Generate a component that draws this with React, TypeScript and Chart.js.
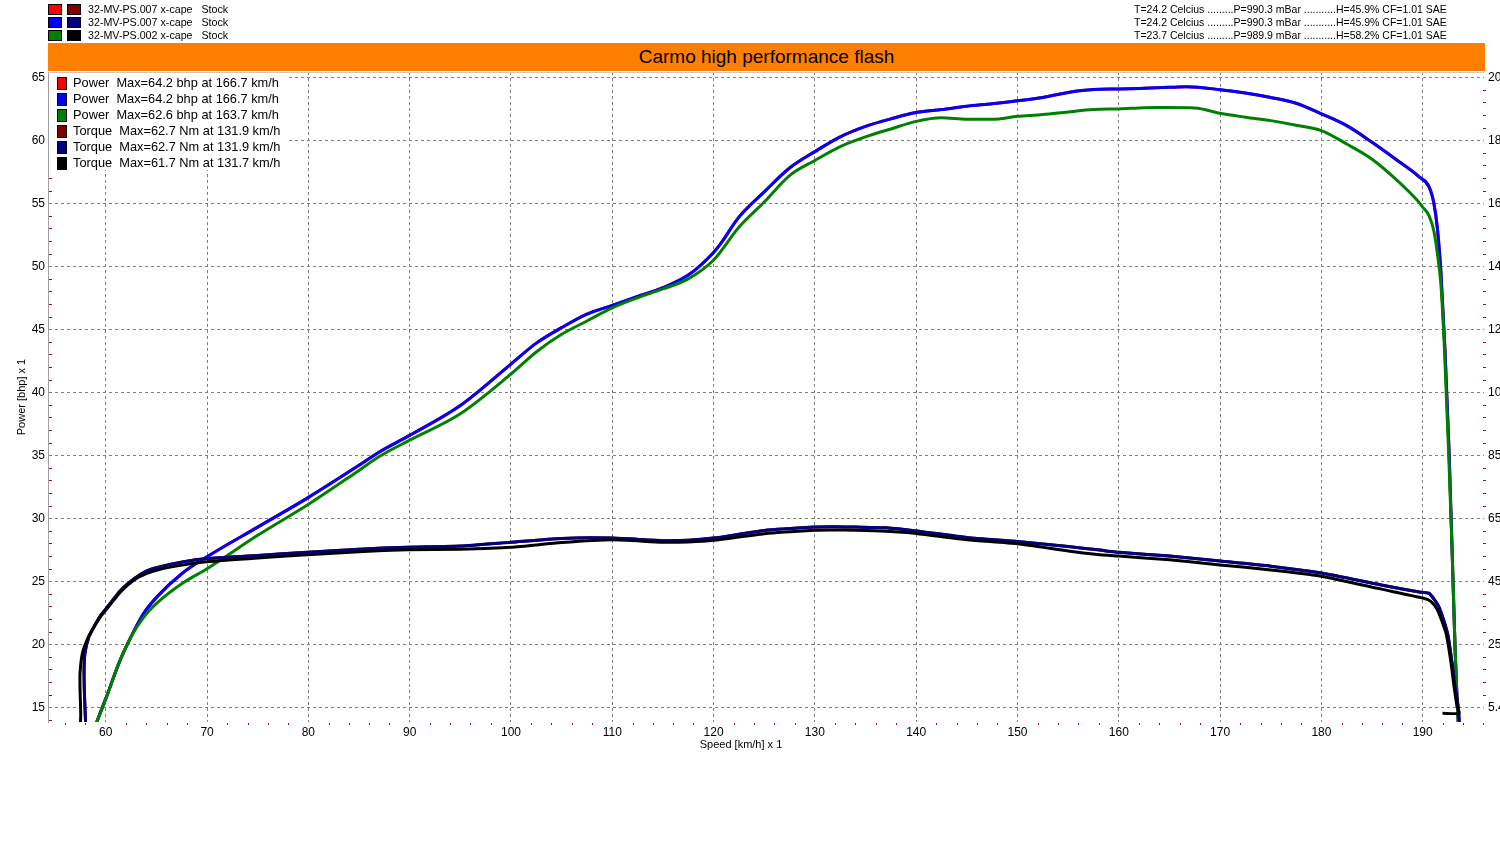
import React, { useEffect, useRef } from "react";
import { Chart, registerables, ChartConfiguration, Plugin } from "chart.js";

Chart.register(...registerables);

const FONT = "'Liberation Sans', Arial, sans-serif";
const GRID = "#808080";
const MINOR = "#c00000";

// header rows: run name, weather/correction line
const runNames = [
  "32-MV-PS.007 x-cape   Stock",
  "32-MV-PS.007 x-cape   Stock",
  "32-MV-PS.002 x-cape   Stock",
];
const runConditions = [
  "T=24.2 Celcius .........P=990.3 mBar ...........H=45.9% CF=1.01 SAE",
  "T=24.2 Celcius .........P=990.3 mBar ...........H=45.9% CF=1.01 SAE",
  "T=23.7 Celcius .........P=989.9 mBar ...........H=58.2% CF=1.01 SAE",
];
const chartTitle = "Carmo high performance flash";

const powerColors = ["#ff0000", "#0000ff", "#008000"];
const torqueColors = ["#800000", "#000080", "#000000"];
const legendColors = [...powerColors, ...torqueColors];
const legendLabels = [
  "Power  Max=64.2 bhp at 166.7 km/h",
  "Power  Max=64.2 bhp at 166.7 km/h",
  "Power  Max=62.6 bhp at 163.7 km/h",
  "Torque  Max=62.7 Nm at 131.9 km/h",
  "Torque  Max=62.7 Nm at 131.9 km/h",
  "Torque  Max=61.7 Nm at 131.7 km/h",
];

// axes
const speedTicks = [60, 70, 80, 90, 100, 110, 120, 130, 140, 150, 160, 170, 180, 190];
const powerTicks = [15, 20, 25, 30, 35, 40, 45, 50, 55, 60, 65];
const torqueTicks = [5.4, 25.4, 45.4, 65.4, 85.4, 105.4, 125.4, 145.4, 165.4, 185.4, 205.4];
const SPEED_MIN = 54.3;
const SPEED_MAX = 196.05;
const POWER_MIN = 13.83;
const POWER_MAX = 65.42;
// right axis (Nm) = 4 * left axis (bhp) - 54.6
const TORQUE_MIN = 4 * POWER_MIN - 54.6;
const TORQUE_MAX = 4 * POWER_MAX - 54.6;

// run 007 power (bhp)
const speed007Power = [
  59.0, 59.2, 60.2, 61.3, 62.5, 63.7, 65.1, 67.5, 70, 75, 79.9, 85, 87, 90, 95, 100,
  102.5, 105, 107.5, 110, 112.5, 115, 117.5, 120, 120.7, 122.5, 125, 127.5, 130, 132.5,
  135, 137.5, 140, 142.5, 145, 147.5, 150, 152.5, 155, 157.5, 160, 162.5, 165, 166.7,
  170, 172.5, 175, 177.5, 180, 182.5, 185, 187.5, 189.65, 190.63, 191.1, 191.45, 191.8,
  192.2, 192.6, 192.9, 193.2, 193.4, 193.55,
];
const power007 = [
  13.5, 14.0, 16.1, 18.5, 20.6, 22.4, 23.8, 25.6, 26.95, 29.3, 31.6, 34.2, 35.26, 36.58,
  38.95, 42.24, 43.9, 45.13, 46.2, 46.9, 47.6, 48.3, 49.3, 51.1, 51.8, 53.9, 55.9, 57.8,
  59.1, 60.27, 61.1, 61.7, 62.2, 62.44, 62.7, 62.9, 63.13, 63.4, 63.8, 64.03, 64.07,
  64.13, 64.2, 64.24, 64.02, 63.76, 63.4, 62.94, 62.1, 61.16, 59.84, 58.4, 57.1, 56.3,
  55.0, 53.0, 49.5, 43.35, 35.4, 27.5, 19.55, 15.5, 13.5,
];

// run 002 power (bhp)
const speed002Power = [
  58.9, 59.2, 60.2, 61.3, 62.5, 63.7, 65.1, 67.5, 70, 75, 79.9, 85, 87, 90, 95, 100,
  102.5, 105, 107.5, 110, 112.5, 115, 117.5, 120, 122.5, 125, 127.5, 130, 132.5, 135,
  137.5, 140, 142.5, 145, 147.5, 150, 152.5, 155, 157.5, 160, 162.5, 163.7, 165, 167.5,
  170, 172.5, 175, 177.5, 180, 182.5, 185, 187.5, 189.5, 190.0, 190.63, 191.1, 191.45,
  191.8, 192.15, 192.55, 192.9, 193.2, 193.4, 193.5,
];
const power002 = [
  13.5, 14.0, 16.1, 18.5, 20.6, 22.1, 23.3, 24.8, 26.0, 28.65, 31.05, 33.8, 34.9, 36.2,
  38.3, 41.45, 43.2, 44.6, 45.66, 46.7, 47.5, 48.2, 49.0, 50.5, 53.1, 55.1, 57.2, 58.4,
  59.5, 60.27, 60.9, 61.5, 61.78, 61.67, 61.67, 61.9, 62.04, 62.25, 62.44, 62.49, 62.58,
  62.6, 62.6, 62.57, 62.14, 61.83, 61.56, 61.2, 60.77, 59.7, 58.5, 56.8, 55.2, 54.7,
  54.0, 52.8, 51.0, 48.5, 43.35, 35.4, 27.5, 19.55, 15.5, 13.5,
];

// run 007 torque (Nm)
const speed007Torque = [
  58.0, 58.0, 57.9, 57.86, 57.95, 58.3, 58.85, 59.5, 60.2, 61.5, 62.8, 64.0, 65.1, 67.7,
  70, 75, 79.9, 85, 89.8, 95, 100, 105, 110, 115, 117.5, 120, 125, 130, 131.9, 134, 137,
  140, 145, 150, 155, 157.9, 160, 165, 170, 175, 180, 185.9, 189.8, 190.63, 191.6,
  192.45, 192.9, 193.2, 193.5, 193.6, 193.65,
];
const torque007 = [
  -0.6, 1.4, 9.4, 17.4, 22.6, 27.4, 31.0, 34.6, 37.4, 42.6, 46.2, 48.6, 49.8, 51.6, 52.6,
  53.6, 54.6, 55.6, 56.2, 56.6, 57.8, 59.0, 59.1, 58.3, 58.4, 59.1, 61.5, 62.6, 62.7,
  62.6, 62.4, 61.4, 59.3, 58.0, 56.4, 55.4, 54.6, 53.4, 51.8, 50.2, 48.0, 44.2, 41.9,
  41.6, 37.3, 28.9, 19.4, 11.8, 5.6, 1.4, -0.6,
];

// run 002 torque (Nm)
const speed002Torque = [
  57.5, 57.53, 57.46, 57.46, 57.7, 58.3, 58.85, 59.5, 60.2, 61.5, 62.8, 64.0, 65.1, 67.7,
  70, 75, 79.9, 85, 89.8, 95, 100, 105, 110, 115, 117.5, 120, 125, 130, 131.7, 134, 137,
  140, 145, 150, 155, 157.9, 160, 165, 170, 175, 180, 185.9, 190.1, 190.8, 191.45, 192.3,
  192.8, 193.1, 193.4, 193.6, 191.95,
];
const torque002 = [
  -0.6, 3.4, 11.4, 16.2, 22.6, 27.8, 31.0, 34.2, 37.0, 42.2, 45.8, 47.8, 49.0, 50.6, 51.6,
  52.8, 53.8, 54.8, 55.4, 55.6, 56.2, 57.7, 58.6, 57.8, 57.9, 58.4, 60.5, 61.6, 61.7,
  61.6, 61.3, 60.6, 58.6, 57.3, 55.0, 53.9, 53.4, 52.2, 50.6, 49.0, 47.0, 42.9, 40.0,
  39.0, 36.3, 28.9, 19.4, 11.8, 5.6, 3.5, 3.5,
];

const toPoints = (xs: number[], ys: number[]) => xs.map((x, i) => ({ x, y: ys[i] }));

// plot frame top line and short red minor tick marks along the three axes
const minorTicks: Plugin<"line"> = {
  id: "minorTicks",
  afterDraw(chart) {
    const { ctx, chartArea } = chart;
    const { x, y, y2 } = chart.scales;
    ctx.save();
    ctx.strokeStyle = "#c8c8c8";
    ctx.lineWidth = 1;
    ctx.beginPath();
    ctx.moveTo(chartArea.left, Math.round(chartArea.top) + 0.5);
    ctx.lineTo(chartArea.right, Math.round(chartArea.top) + 0.5);
    ctx.stroke();

    ctx.strokeStyle = MINOR;
    ctx.beginPath();
    for (let v = 14; v <= 65; v++) {
      if (v % 5 === 0) continue;
      const py = Math.round(y.getPixelForValue(v)) + 0.5;
      ctx.moveTo(chartArea.left + 1, py);
      ctx.lineTo(chartArea.left + 4, py);
    }
    for (let k = 1; k < 51; k++) {
      if (k % 5 === 0) continue;
      const py = Math.round(y2.getPixelForValue(5.4 + k * 4)) + 0.5;
      ctx.moveTo(chartArea.right - 1, py);
      ctx.lineTo(chartArea.right + 2, py);
    }
    for (let v = 56; v <= 196; v += 2) {
      if (v % 10 === 0) continue;
      const px = Math.round(x.getPixelForValue(v)) + 0.5;
      ctx.moveTo(px, chartArea.bottom + 1);
      ctx.lineTo(px, chartArea.bottom + 3);
    }
    ctx.stroke();
    ctx.restore();
  },
};

const box = (color: string, left: number, top: number, w: number, h: number): React.CSSProperties => ({
  position: "absolute",
  left,
  top,
  width: w,
  height: h,
  background: color,
  border: "1px solid #000",
  boxSizing: "border-box",
});

const App = () => {
  const canvasRef = useRef<HTMLCanvasElement | null>(null);
  const chartRef = useRef<Chart<"line"> | null>(null);

  useEffect(() => {
    const ctx = canvasRef.current?.getContext("2d");
    if (chartRef.current) chartRef.current.destroy();
    if (!ctx) return;

    const runs = [
      { pts: toPoints(speed007Power, power007), color: powerColors[0], axis: "y", order: 6 },
      { pts: toPoints(speed007Power, power007), color: powerColors[1], axis: "y", order: 5 },
      { pts: toPoints(speed002Power, power002), color: powerColors[2], axis: "y", order: 4 },
      { pts: toPoints(speed007Torque, torque007), color: torqueColors[0], axis: "y2", order: 3 },
      { pts: toPoints(speed007Torque, torque007), color: torqueColors[1], axis: "y2", order: 2 },
      { pts: toPoints(speed002Torque, torque002), color: torqueColors[2], axis: "y2", order: 1 },
    ];

    const config: ChartConfiguration<"line"> = {
      type: "line",
      data: {
        datasets: runs.map((r, i) => ({
          label: legendLabels[i],
          data: r.pts,
          borderColor: r.color,
          backgroundColor: r.color,
          yAxisID: r.axis,
          order: r.order,
          fill: false,
          // power runs are monotonic in speed, torque runs turn back at both ends
          cubicInterpolationMode: r.axis === "y" ? "monotone" : "default",
          tension: r.axis === "y" ? 0.4 : 0.2,
        })),
      },
      options: {
        responsive: false,
        animation: false,
        layout: { padding: { top: 72, bottom: 88, left: 0, right: 0 } },
        plugins: {
          legend: { display: false },
          tooltip: { enabled: false },
        },
        elements: {
          point: { radius: 0 },
          line: { borderWidth: 3 },
        },
        scales: {
          x: {
            type: "linear",
            min: SPEED_MIN,
            max: SPEED_MAX,
            afterBuildTicks: (s) => {
              s.ticks = speedTicks.map((v) => ({ value: v }));
            },
            afterFit: (s) => {
              s.height = 40;
            },
            grid: { color: GRID, drawTicks: false },
            border: { display: false, dash: [3, 3] },
            ticks: {
              color: "#000",
              font: { family: FONT, size: 12 },
              padding: 3,
              autoSkip: false,
              maxRotation: 0,
              callback: (v) => String(v),
            },
          },
          y: {
            type: "linear",
            position: "left",
            min: POWER_MIN,
            max: POWER_MAX,
            afterBuildTicks: (s) => {
              s.ticks = powerTicks.map((v) => ({ value: v }));
            },
            afterFit: (s) => {
              s.width = 48;
            },
            grid: { color: GRID, drawTicks: false },
            border: { display: true, color: "#a0a0a0", width: 1, dash: [3, 3] },
            ticks: {
              color: "#000",
              font: { family: FONT, size: 12 },
              padding: 3,
              autoSkip: false,
              callback: (v) => String(v),
            },
            title: {
              display: true,
              text: "Power [bhp] x 1",
              color: "#000",
              font: { family: FONT, size: 11 },
              padding: { top: 15, bottom: 0 },
            },
          },
          y2: {
            type: "linear",
            position: "right",
            min: TORQUE_MIN,
            max: TORQUE_MAX,
            afterBuildTicks: (s) => {
              s.ticks = torqueTicks.map((v) => ({ value: v }));
            },
            afterFit: (s) => {
              s.width = 36;
            },
            grid: { drawOnChartArea: false, drawTicks: false },
            border: { display: false },
            ticks: {
              color: "#000",
              font: { family: FONT, size: 12 },
              padding: 4,
              autoSkip: false,
              callback: (v) => String(Math.round(Number(v) * 10) / 10),
            },
          },
        },
      },
      plugins: [minorTicks],
    };

    chartRef.current = new Chart(ctx, config);

    return () => {
      if (chartRef.current) {
        chartRef.current.destroy();
        chartRef.current = null;
      }
    };
  }, []);

  return (
    <div
      style={{
        position: "absolute",
        left: 0,
        top: 0,
        width: 1500,
        height: 850,
        overflow: "hidden",
        background: "#fff",
        fontFamily: FONT,
        color: "#000",
      }}
    >
      <canvas ref={canvasRef} width={1520} height={850} style={{ position: "absolute", left: 0, top: 0 }} />

      {runNames.map((name, i) => (
        <React.Fragment key={"run" + i}>
          <div style={box(powerColors[i], 48, 4 + i * 13, 14, 11)} />
          <div style={box(torqueColors[i], 67, 4 + i * 13, 14, 11)} />
          <div
            style={{
              position: "absolute",
              left: 88,
              top: 2.5 + i * 13,
              fontSize: 10.7,
              lineHeight: "13px",
              whiteSpace: "pre",
            }}
          >
            {name}
          </div>
        </React.Fragment>
      ))}

      {runConditions.map((line, i) => (
        <div
          key={"cond" + i}
          style={{
            position: "absolute",
            left: 1134,
            top: 2.5 + i * 13,
            fontSize: 10.5,
            lineHeight: "13px",
            whiteSpace: "pre",
          }}
        >
          {line}
        </div>
      ))}

      <div
        style={{
          position: "absolute",
          left: 48,
          top: 43,
          width: 1437,
          height: 28,
          background: "#ff8000",
          textAlign: "center",
          fontSize: 19,
          lineHeight: "28px",
        }}
      >
        {chartTitle}
      </div>

      <div style={{ position: "absolute", left: 49, top: 73, width: 240, height: 97, background: "#fff" }}>
        {legendLabels.map((label, i) => (
          <React.Fragment key={"leg" + i}>
            <div style={box(legendColors[i], 8, 4 + i * 16, 10, 13)} />
            <div
              style={{
                position: "absolute",
                left: 24,
                top: 2 + i * 16,
                fontSize: 12.8,
                lineHeight: "16px",
                whiteSpace: "pre",
              }}
            >
              {label}
            </div>
          </React.Fragment>
        ))}
      </div>

      <div
        style={{
          position: "absolute",
          left: 641,
          top: 738,
          width: 200,
          textAlign: "center",
          fontSize: 11,
          lineHeight: "13px",
        }}
      >
        Speed [km/h] x 1
      </div>
    </div>
  );
};

export default App;
